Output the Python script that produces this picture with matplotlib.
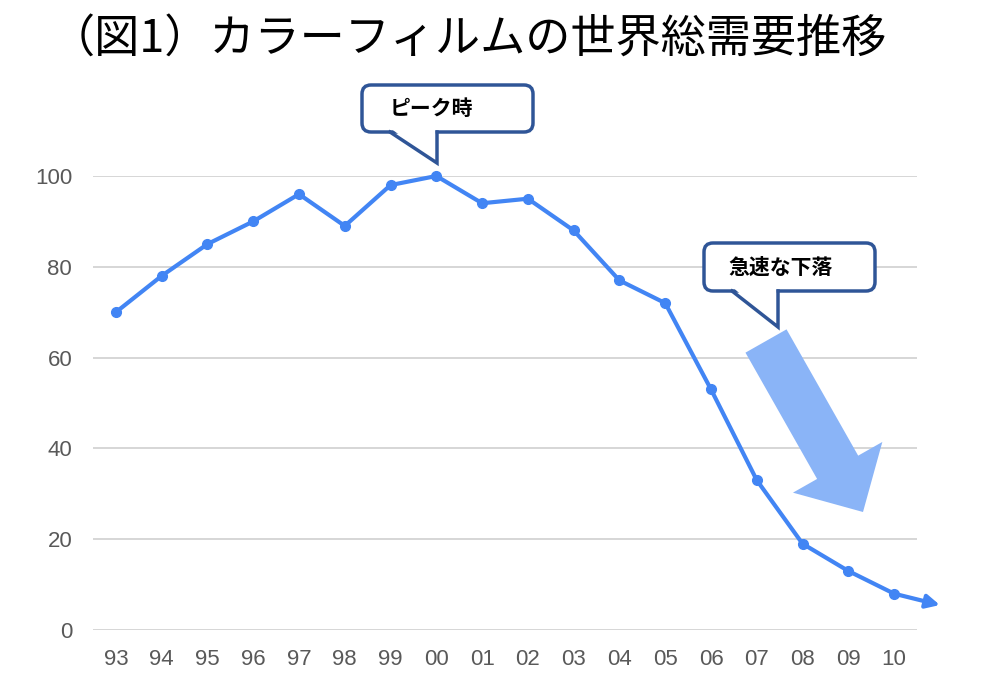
"""
カラーフィルムの世界総需要推移 (図1)
"""

import matplotlib
matplotlib.use("Agg")
import matplotlib.pyplot as plt
from matplotlib.patches import FancyBboxPatch, Polygon
from matplotlib.lines import Line2D
from matplotlib.transforms import Affine2D

plt.rcParams["font.family"] = ["Noto Sans CJK JP", "DejaVu Sans"]

# data (index 2000 = 100)
years = ["93", "94", "95", "96", "97", "98", "99", "00", "01",
         "02", "03", "04", "05", "06", "07", "08", "09", "10"]
demand = [70, 78, 85, 90, 96, 89, 98, 100, 94,
          95, 88, 77, 72, 53, 33, 19, 13, 8]
trend_next = 5.5  # where the arrow on the line points (no label)
y_ticks = [0, 20, 40, 60, 80, 100]

title = "（図1）カラーフィルムの世界総需要推移"
peak_label = "ピーク時"
drop_label = "急速な下落"

LINE_BLUE = "#4285f4"
ARROW_BLUE = "#8ab4f7"
BOX_EDGE = "#2f5597"
TICK_GREY = "#595959"
GRID_GREY = "#d3d3d3"

W, H = 983, 688
fig = plt.figure(figsize=(W / 100, H / 100), dpi=100)
ax = fig.add_axes([93 / W, 1 - 630 / H, (917 - 93) / W, (630 - 176) / H])

x = list(range(len(years)))
ax.plot(x, demand, color=LINE_BLUE, linewidth=3, marker="o", markersize=7,
        clip_on=False, zorder=3)
# trend arrow after the last point
ax.annotate("", xy=(len(years), trend_next), xytext=(x[-1], demand[-1]),
            arrowprops=dict(arrowstyle="-|>", color=LINE_BLUE, lw=3,
                            mutation_scale=20, shrinkA=0, shrinkB=0),
            annotation_clip=False, zorder=3)

ax.set_xlim(-0.5, len(years) - 0.5)
ax.set_ylim(0, 100)
ax.set_xticks(x)
ax.set_xticklabels(years)
ax.set_yticks(y_ticks)
for lbl in ax.get_xticklabels() + ax.get_yticklabels():
    lbl.set_fontfamily("Liberation Sans")
ax.tick_params(length=0, labelsize=16, labelcolor=TICK_GREY)
ax.tick_params(axis="x", pad=14)
ax.tick_params(axis="y", pad=15)
ax.grid(axis="y", color=GRID_GREY, linewidth=1.3)
ax.set_axisbelow(True)
for sp in ax.spines.values():
    sp.set_visible(False)

fig.text(468 / W, 1 - 40 / H, title, ha="center", va="center", fontsize=32.5)

# figure pixel coords, y measured from the top
px = Affine2D().scale(1 / W, -1 / H).translate(0, 1) + fig.transFigure


def callout(box, tail, text, text_x):
    x0, y0, x1, y1 = box
    fig.patches.append(FancyBboxPatch(
        (x0, y0), x1 - x0, y1 - y0, boxstyle="round,pad=0,rounding_size=9",
        facecolor="white", edgecolor=BOX_EDGE, linewidth=2.5,
        transform=px, figure=fig, zorder=5))
    left, right, tip = tail
    fig.patches.append(Polygon(
        [(left + 1.5, y1 - 3), tip, (right - 1.5, y1 - 3)], closed=True,
        facecolor="white", edgecolor="none", transform=px, figure=fig, zorder=6))
    fig.lines.append(Line2D([left, tip[0], right], [y1, tip[1], y1],
                            color=BOX_EDGE, linewidth=2.5, solid_joinstyle="miter",
                            transform=px, figure=fig, zorder=7))
    fig.text(text_x / W, 1 - ((y0 + y1) / 2) / H, text, ha="left", va="center",
             fontsize=15, fontweight="bold", zorder=8)


callout((362, 85, 533, 132), (390, 437, (437, 163)), peak_label, 390)
callout((704, 243, 875, 291), (732, 778, (778, 327)), drop_label, 728)

# big "falling" arrow
ax.annotate("", xy=(863, H - 512), xycoords="figure pixels",
            xytext=(766, H - 341), textcoords="figure pixels",
            arrowprops=dict(arrowstyle="simple,head_length=37,head_width=74,tail_width=34",
                            mutation_scale=1, facecolor=ARROW_BLUE, edgecolor="none",
                            shrinkA=0, shrinkB=0),
            annotation_clip=False, zorder=4)

fig.savefig("out.png", dpi=100)
